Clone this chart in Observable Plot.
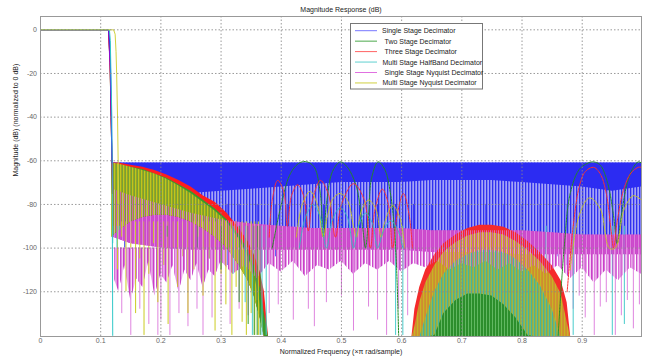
<!DOCTYPE html>
<html><head><meta charset="utf-8">
<script src="https://cdn.jsdelivr.net/npm/d3@7"></script>
<script src="https://cdn.jsdelivr.net/npm/@observablehq/plot@0.6"></script>
<style>
body{margin:0;background:#fff;}
#wrap{position:relative;width:647px;height:358px;}
</style></head><body>
<svg width="0" height="0" style="position:absolute">
<defs>
<pattern id="pBlue" patternUnits="userSpaceOnUse" width="3" height="8"><rect width="3" height="8" fill="#a4a4f6"/><rect width="1.3" height="8" fill="#3030f0"/></pattern>
<pattern id="pMag" patternUnits="userSpaceOnUse" width="3" height="8"><rect width="1" height="8" fill="#c840c8"/><rect x="1" width="1" height="8" fill="#e9a6e9"/></pattern>
<pattern id="pMagSparse" patternUnits="userSpaceOnUse" width="4" height="8"><rect width="1" height="8" fill="#cc50cc"/><rect x="2" width="0.8" height="8" fill="#e7a0e7"/></pattern>
<pattern id="pYel" patternUnits="userSpaceOnUse" width="3" height="8"><rect width="3" height="8" fill="#a4a226"/><rect width="1" height="8" fill="#cccc1a"/><rect x="2" width="0.7" height="8" fill="#6aa43a"/></pattern>
<pattern id="pMidYel" patternUnits="userSpaceOnUse" width="3" height="8"><rect width="3" height="8" fill="#cf8c30"/><rect width="1.2" height="8" fill="#c8b424"/></pattern>
<pattern id="pTeal" patternUnits="userSpaceOnUse" width="3" height="8"><rect width="3" height="8" fill="#a8aa30"/><rect width="1.2" height="8" fill="#46b49e"/><rect x="2" width="0.7" height="8" fill="#8cc060"/></pattern>
<pattern id="pGreen" patternUnits="userSpaceOnUse" width="3" height="8"><rect width="3" height="8" fill="#2c8e2c"/><rect width="1" height="8" fill="#62b862"/></pattern>
</defs></svg>
<div id="wrap"></div>
<script>
// ---------- axes / labels ----------
const xTicks = [0, 0.1, 0.2, 0.3, 0.4, 0.5, 0.6, 0.7, 0.8, 0.9];
const yTicks = [0, -20, -40, -60, -80, -100, -120];
const titleText = "Magnitude Response (dB)";
const xLabel = "Normalized Frequency (\u00d7\u03c0 rad/sample)";
const yLabel = "Magnitude (dB) (normalized to 0 dB)";
const seriesNames = ["Single Stage Decimator", "Two Stage Decimator", "Three Stage Decimator",
  "Multi Stage HalfBand Decimator", "Single Stage Nyquist Decimator", "Multi Stage Nyquist Decimator"];

// ---------- passbands / transitions [f, dB] ----------
const passSingleDec = [[0,0],[0.1135,0],[0.1155,-8],[0.117,-25],[0.118,-45],[0.119,-61]];
const passTwoStage = [[0,0],[0.113,0],[0.1155,-15],[0.118,-50],[0.1195,-75]];
const passThreeStage = [[0,0],[0.113,0],[0.1155,-15],[0.118,-50],[0.1195,-75]];
const passHalfBand = [[0,0],[0.1145,0],[0.116,-5],[0.117,-20],[0.1185,-40],[0.119,-60],[0.1195,-100],[0.12,-140]];
const passSingleNyq = [[0,0],[0.113,0],[0.116,-20],[0.118,-50],[0.12,-73]];
const passMultiNyq = [[0,0],[0.1215,0],[0.124,-2],[0.1255,-10],[0.1265,-20],[0.128,-40],[0.129,-60],[0.13,-80]];

// ---------- Single Stage Decimator stopband ----------
const sdF = [0.118, 0.15, 0.2, 0.25, 0.3, 0.35, 0.4, 0.45, 0.5, 0.55, 0.6, 0.65, 0.7, 0.75, 0.8, 0.85, 0.9, 0.95, 0.9985];
const sdTop = [-61, -61, -61, -61, -61, -61, -61, -61, -61, -61, -61, -61, -61, -61, -61, -61, -61, -61, -61];
const sdSolid = [-82, -80, -76, -75, -74, -73, -72, -71, -70, -70, -70, -69, -69, -69, -70, -71, -72, -74, -72];
const sdLight = [-94, -93, -93, -92, -92, -92, -93, -93, -93, -93, -93, -94, -94, -94, -94, -95, -96, -96, -96];
const sdSpikes = [[0.14,-100],[0.16,-95],[0.22,-98],[0.28,-105],[0.31,-108],[0.33,-100],[0.36,-96],[0.39,-104],
  [0.41,-95],[0.44,-98],[0.47,-94],[0.5,-100],[0.53,-96],[0.56,-99],[0.59,-102],[0.62,-95],[0.65,-98],[0.68,-95],
  [0.71,-100],[0.74,-96],[0.77,-99],[0.8,-95],[0.83,-100],[0.86,-104],[0.875,-108],[0.89,-100],[0.91,-96],
  [0.94,-98],[0.97,-95]];

// ---------- Single Stage Nyquist stopband ----------
const snF = [0.12, 0.15, 0.2, 0.25, 0.3, 0.35, 0.4, 0.45, 0.5, 0.55, 0.6, 0.65, 0.7, 0.75, 0.8, 0.85, 0.9, 0.95, 0.9985];
const snTop = [-73, -76, -80, -84, -87, -89, -90, -91, -91, -91, -91, -92, -92, -92, -92, -93, -94, -94, -94];
const snSolid = [-95, -98, -100, -101, -101, -101, -101, -101, -101, -101, -101, -102, -102, -102, -103, -103, -103, -103, -103];
// ragged lower edge of the dense Nyquist spikes
const snEdgeF = [0.12, 0.13, 0.14, 0.15, 0.16, 0.17, 0.18, 0.19, 0.2, 0.21, 0.22, 0.23, 0.24, 0.25, 0.26, 0.27, 0.28, 0.29, 0.3,
  0.32, 0.34, 0.36, 0.38, 0.4, 0.42, 0.44, 0.46, 0.48, 0.5, 0.52, 0.54, 0.56, 0.58, 0.6, 0.62, 0.64, 0.66, 0.68, 0.7,
  0.72, 0.74, 0.76, 0.78, 0.8, 0.82, 0.84, 0.86, 0.88, 0.9, 0.92, 0.94, 0.96, 0.98, 0.9985];
const snEdge = [-112, -120, -108, -124, -114, -118, -106, -122, -112, -116, -108, -120, -110, -115, -107, -118, -110, -113, -106,
  -112, -108, -114, -107, -111, -106, -113, -108, -110, -106, -112, -107, -110, -106, -111, -107, -109, -106, -110, -107,
  -109, -106, -110, -107, -111, -108, -112, -108, -114, -109, -116, -110, -115, -109, -112];
const snSpikes = [[0.135,-130],[0.15,-140],[0.165,-128],[0.18,-135],[0.195,-140],[0.2,-133],[0.215,-140],[0.23,-130],
  [0.245,-136],[0.26,-128],[0.27,-140],[0.285,-132],[0.3,-126],[0.315,-135],[0.33,-128],[0.345,-131],[0.36,-124],
  [0.38,-130],[0.395,-126],[0.42,-133],[0.445,-128],[0.455,-136],[0.475,-125],[0.5,-122],[0.52,-138],[0.545,-127],
  [0.56,-133],[0.575,-140],[0.595,-128],[0.61,-131],[0.885,-128],[0.895,-122],[0.905,-132],[0.92,-140],[0.93,-127],
  [0.94,-125],[0.955,-140],[0.965,-131],[0.975,-124],[0.985,-137],[0.995,-126]];

// ---------- low-frequency lobes of the multistage designs ----------
const lowF = [0.118, 0.13, 0.15, 0.17, 0.19, 0.21, 0.23, 0.25, 0.27, 0.29, 0.31, 0.33, 0.345, 0.355, 0.365, 0.372, 0.379];
const threeLowTop = [-61, -61, -62, -63, -64.5, -66.5, -69, -72, -76, -79, -84, -91, -97, -103, -111, -120, -141];
const twoLowTop = [-62, -62, -63, -64, -66, -68, -71, -74, -78, -82, -87, -94, -101, -108, -118, -130, -141];
const nyqLowTop = [-61, -61.5, -63, -64.5, -66, -68.5, -71.5, -75, -79, -83, -88, -96, -104, -112, -125, -141, -141];
const lowBottom = [-95, -92, -88, -86, -85, -85, -86, -88, -91, -95, -100, -108, -115, -122, -132, -141, -141];
const nyqLowSpikes = [[0.128,-110],[0.135,-95],[0.142,-120],[0.15,-100],[0.158,-130],[0.165,-105],[0.172,-140],
  [0.18,-112],[0.188,-98],[0.195,-125],[0.205,-108],[0.212,-135],[0.22,-100],[0.228,-118],[0.236,-104],[0.245,-130],
  [0.255,-110],[0.262,-95],[0.27,-122],[0.28,-105],[0.29,-138],[0.3,-112],[0.308,-126],[0.318,-140],[0.325,-118],
  [0.335,-134],[0.342,-140],[0.35,-130],[0.356,-140],[0.362,-140]];
const twoSpikes = [[0.21,-95],[0.26,-100],[0.3,-110],[0.33,-125],[0.345,-135],[0.355,-140],[0.36,-140],[0.365,-140]];
const halfSpikes = [[0.12,-98],[0.123,-90],[0.127,-100],[0.132,-92],[0.32,-112],[0.34,-125],[0.352,-140],[0.368,-140],
  [0.375,-140],[0.59,-140],[0.602,-140],[0.84,-140],[0.885,-140],[0.95,-140],[0.97,-135]];

// ---------- high-frequency lobe (0.62 - 0.88) ----------
const midF = [0.617, 0.622, 0.63, 0.64, 0.655, 0.67, 0.69, 0.71, 0.73, 0.75, 0.77, 0.79, 0.81, 0.83, 0.85, 0.865, 0.875, 0.881];
const threeMidTop = [-141, -128, -118, -110, -103, -98, -94, -91, -89.5, -89.5, -90.5, -93, -97, -102, -108, -115, -125, -141];
const nyqMidTop = [-141, -136, -125, -116, -108, -102, -97.5, -94.5, -93, -93, -94, -97, -101, -106, -113, -121, -134, -141];
const halfMidTop = [-141, -141, -141, -132, -120, -112, -106, -103, -101, -101, -102, -105, -110, -117, -128, -141, -141, -141];
const twoMidTop = [-141, -141, -141, -141, -140, -130, -124, -121, -121, -122, -126, -132, -140, -141, -141, -141, -141, -141];

// ---------- aliasing lobes (envelopes) ----------
const twoArcs = [[0.385,-100],[0.40,-80],[0.415,-66],[0.43,-61],[0.443,-60.5],[0.455,-63],[0.465,-75],[0.47,-95],
  [0.475,-80],[0.485,-65],[0.498,-60.5],[0.51,-63],[0.525,-72],[0.535,-90],[0.54,-100],[0.545,-85],[0.55,-68],
  [0.561,-60.5],[0.572,-64],[0.582,-76],[0.59,-100],[0.595,-140]];
const twoArcsHi = [[0.86,-140],[0.87,-100],[0.88,-75],[0.895,-64],[0.91,-61],[0.919,-60.5],[0.93,-62],[0.942,-70],
  [0.952,-85],[0.958,-98],[0.965,-85],[0.975,-70],[0.985,-63],[0.993,-60.5],[0.9985,-61]];
const threeArcs = [[0.38,-95],[0.385,-78],[0.394,-69],[0.404,-74],[0.41,-90],[0.417,-76],[0.427,-71],[0.437,-76],
  [0.445,-92],[0.452,-78],[0.465,-69],[0.478,-75],[0.49,-95],[0.5,-80],[0.52,-70.5],[0.538,-78],[0.548,-100],
  [0.556,-82],[0.568,-73],[0.578,-80],[0.585,-100],[0.593,-84],[0.603,-75],[0.612,-84],[0.618,-100]];
const threeArcsHi = [[0.875,-120],[0.885,-90],[0.895,-72],[0.905,-65],[0.919,-63],[0.93,-66],[0.94,-75],[0.948,-92],
  [0.952,-100],[0.958,-88],[0.968,-74],[0.98,-66],[0.993,-63],[0.9985,-63]];
const nyqArcs = [[0.425,-95],[0.435,-80],[0.448,-74],[0.46,-80],[0.47,-95],[0.477,-85],[0.487,-77],[0.498,-75],
  [0.51,-78],[0.52,-90],[0.525,-95],[0.533,-83],[0.545,-78],[0.557,-82],[0.566,-95],[0.572,-88],[0.585,-80.5],
  [0.597,-86],[0.605,-100]];
const nyqArcsHi = [[0.88,-110],[0.895,-85],[0.912,-77],[0.93,-82],[0.945,-100],[0.955,-100],[0.97,-82],[0.985,-76],[0.9985,-78]];
const halfArcs = [[0.43,-100],[0.44,-86],[0.453,-80],[0.465,-86],[0.475,-100],[0.485,-87],[0.498,-81.5],[0.51,-86],
  [0.52,-100],[0.528,-90],[0.54,-84],[0.552,-89],[0.56,-100],[0.57,-92],[0.582,-87.5],[0.594,-92],[0.602,-100]];

// ---------- helpers ----------
const band = (fs, hi, lo) => fs.map((f, i) => ({f, hi: hi[i], lo: lo[i]}));
const pts = a => a.map(([f, v]) => ({f, v}));
const BOTTOM = -140.5;
const area = (data, fill, extra = {}) => Plot.areaY(data, {x: "f", y1: "lo", y2: "hi", fill, clip: true, ...extra});
const line = (data, stroke, extra = {}) => Plot.line(pts(data), {x: "f", y: "v", stroke, strokeWidth: 1, clip: true, ...extra});
const spikes = (data, stroke, from, extra = {}) => Plot.ruleX(pts(data), {x: "f", y1: from, y2: "v", stroke, strokeWidth: 1, clip: true, ...extra});
const midFloor = midF.map(() => BOTTOM);
const snEdgeTop = snEdgeF.map(() => -100);
const arcStyle = {curve: "catmull-rom", strokeDasharray: "2,1"};

const plot = Plot.plot({
  width: 647, height: 358,
  marginLeft: 40, marginRight: 6, marginTop: 16, marginBottom: 22,
  x: {domain: [0, 0.9985], label: null},
  y: {domain: [BOTTOM, 6.1], label: null},
  style: {fontFamily: "'Liberation Sans', Arial, sans-serif", fontSize: "7px", color: "#555", background: "white", overflow: "visible"},
  marks: [
    // Single Stage Decimator stopband
    area(band(sdF, sdTop, sdLight), "url(#pBlue)"),
    area(band(sdF, sdTop, sdSolid), "#2c2cf2"),
    spikes(sdSpikes, "#2a2af0", -80),
    // Single Stage Nyquist stopband
    area(band(snEdgeF, snEdgeTop, snEdge), "url(#pMag)"),
    area(band(snF, snTop, snSolid), "#cc48cc"),
    // low-frequency multistage lobes
    area(band(lowF, threeLowTop, lowBottom), "#ff1e1e"),
    area(band(lowF, twoLowTop, lowBottom), "#3c9a2a"),
    area(band(lowF, nyqLowTop, lowBottom), "url(#pYel)", {fillOpacity: 0.9}),
    spikes(snSpikes, "#dc78dc", -100, {strokeOpacity: 0.9}),
    spikes(nyqLowSpikes, "#cccc22", -88),
    spikes(twoSpikes, "#2f9a2f", -90),
    spikes(halfSpikes, "#48cccc", -90),
    // high-frequency lobe
    area(band(midF, threeMidTop, midFloor), "#f52a2a"),
    area(band(midF, nyqMidTop, midFloor), "url(#pMidYel)"),
    area(band(midF, halfMidTop, midFloor), "url(#pTeal)"),
    area(band(midF, twoMidTop, midFloor), "url(#pGreen)"),
    area(band(snF, snTop, snSolid), "url(#pMagSparse)", {fillOpacity: 0.8}),
    area(band(snEdgeF, snEdgeTop, snEdge), "url(#pMagSparse)", {fillOpacity: 0.6}),
    // aliasing lobe envelopes
    line(twoArcs, "#1f8a1f", arcStyle),
    line(twoArcsHi, "#1f8a1f", arcStyle),
    line(threeArcs, "#ff3030", arcStyle),
    line(threeArcsHi, "#ff3030", arcStyle),
    line(nyqArcs, "#c8c820", arcStyle),
    line(nyqArcsHi, "#c8c820", arcStyle),
    line(halfArcs, "#30c0c0", arcStyle),
    // passbands
    line(passTwoStage, "#008000"),
    line(passThreeStage, "#ff0000"),
    line(passSingleNyq, "#bf00bf"),
    line(passSingleDec, "#2020ff"),
    line(passHalfBand, "#30c8c8"),
    line(passMultiNyq, "#d2d23c"),
    // grid, frame, axes
    Plot.gridX(xTicks.slice(1), {stroke: "#888", strokeOpacity: 0.85, strokeDasharray: "1.5,2"}),
    Plot.gridY(yTicks, {stroke: "#888", strokeOpacity: 0.85, strokeDasharray: "1.5,2"}),
    Plot.frame({stroke: "#999"}),
    Plot.axisX(xTicks, {tickSize: 0, tickPadding: 2, tickFormat: d => String(d), fill: "#666", label: null}),
    Plot.axisY(yTicks, {tickSize: 0, tickPadding: 3.5, tickFormat: d => String(d), fill: "#666", label: null}),
    Plot.text([titleText], {frameAnchor: "top", dy: -9, fill: "#222", fontSize: 7}),
    Plot.text([xLabel], {frameAnchor: "bottom", dy: 17, fill: "#222", fontSize: 7}),
    Plot.text([yLabel], {frameAnchor: "left", dx: -25, rotate: -90, fill: "#222", fontSize: 7})
  ]
});

// legend
const legendColors = ["#7878ff", "#4ca84c", "#ff6464", "#60d0d0", "#e070e0", "#d0d040"];
const legendTextX = [382, 384.5, 384.5, 382.5, 384.5, 382.5];
const lg = d3.select(plot).append("g").attr("font-family", "'Liberation Sans', Arial, sans-serif").attr("font-size", 7).attr("text-anchor", "start");
lg.append("rect").attr("x", 350.5).attr("y", 23.5).attr("width", 132).attr("height", 65.5).attr("fill", "white").attr("stroke", "#777");
seriesNames.forEach((n, i) => {
  const y = 30.7 + i * 10.45;
  lg.append("line").attr("x1", 355).attr("x2", 377).attr("y1", y).attr("y2", y).attr("stroke", legendColors[i]);
  lg.append("text").attr("x", legendTextX[i]).attr("y", y).attr("dy", "0.35em").attr("fill", "#222").attr("text-anchor", "start").text(n);
});
document.getElementById("wrap").appendChild(plot);
</script>
</body></html>
